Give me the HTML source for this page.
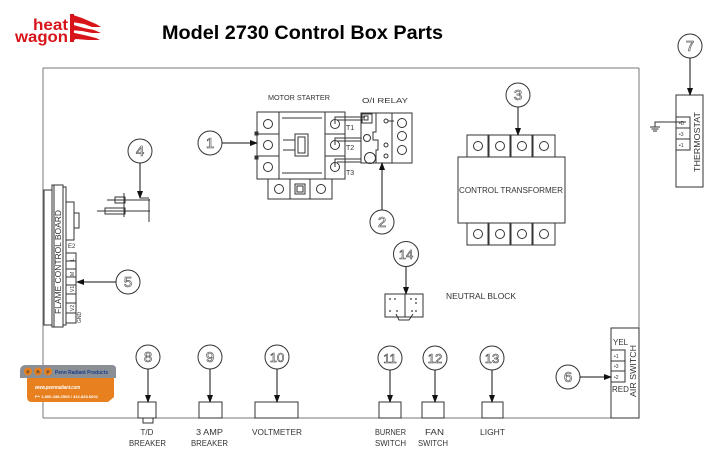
<!DOCTYPE html>
<html><head><meta charset="utf-8"><style>
html,body{margin:0;padding:0;background:#fff;}
svg{display:block;}
text{font-family:"Liberation Sans",sans-serif;}
.cad{font-family:"Liberation Sans",sans-serif;font-size:8px;fill:#333;}
.num{font-family:"Liberation Sans",sans-serif;font-size:15px;fill:#fff;stroke:#444;stroke-width:0.6;text-anchor:middle;}
</style></head><body>
<svg width="720" height="458" viewBox="0 0 720 458" xmlns="http://www.w3.org/2000/svg">
<defs>
<marker id="ar" markerWidth="8" markerHeight="6" refX="7" refY="3" orient="auto" markerUnits="userSpaceOnUse">
<path d="M0,0 L8,3 L0,6 z" fill="#111"/></marker>
</defs>

<!-- Logo -->
<text x="33" y="30" font-size="16" font-weight="bold" fill="#d7141a" textLength="35" lengthAdjust="spacingAndGlyphs">heat</text>
<text x="15" y="42" font-size="16" font-weight="bold" fill="#d7141a" textLength="53" lengthAdjust="spacingAndGlyphs">wagon</text>
<g fill="#d7141a">
<path d="M70,14 L82,18 L96,24 L101,27 L92,27 L84,24 L72,22 z"/>
<path d="M70,24 L84,28 L94,30 L101,33 L92,33 L82,31 L70,30 z"/>
<path d="M70,32 L84,35 L96,38 L100,40 L88,40 L76,39 L70,42 z"/>
<rect x="70" y="14" width="4" height="28"/>
</g>

<!-- Title -->
<text x="162" y="39" font-size="19" font-weight="bold" fill="#000" textLength="281" lengthAdjust="spacingAndGlyphs">Model 2730 Control Box Parts</text>

<!-- Main box -->
<g stroke="#777" stroke-width="1" fill="none">
<line x1="43" y1="68" x2="639" y2="68"/>
<line x1="43" y1="68" x2="43" y2="418"/>
<line x1="639" y1="68" x2="639" y2="328"/>
<line x1="43" y1="418" x2="611" y2="418"/>
</g>

<g stroke="#333" stroke-width="1" fill="none">
<!-- Motor starter -->
<rect x="257" y="112" width="88" height="67"/>
<line x1="279" y1="112" x2="279" y2="179"/>
<line x1="325" y1="112" x2="325" y2="179"/>
<line x1="257" y1="134" x2="279" y2="134"/>
<line x1="257" y1="156" x2="279" y2="156"/>
<line x1="325" y1="134" x2="345" y2="134"/>
<line x1="325" y1="156" x2="345" y2="156"/>
<line x1="282" y1="118" x2="322" y2="118"/>
<line x1="282" y1="173" x2="322" y2="173"/>
<circle cx="268" cy="124" r="4.5"/><circle cx="268" cy="145" r="4.5"/><circle cx="268" cy="167" r="4.5"/>
<circle cx="335" cy="124" r="4.5"/><circle cx="335" cy="145" r="4.5"/><circle cx="335" cy="167" r="4.5"/>
<rect x="295" y="134" width="13" height="22"/>
<rect x="298" y="137" width="7" height="16"/>
<line x1="283" y1="140" x2="295" y2="140"/>
<line x1="283" y1="150" x2="295" y2="150"/>
<rect x="255" y="132" width="3" height="3" fill="#333"/>
<rect x="255" y="156" width="3" height="3" fill="#333"/>
<rect x="268" y="179" width="64" height="20"/>
<line x1="290" y1="179" x2="290" y2="199"/>
<line x1="310" y1="179" x2="310" y2="199"/>
<circle cx="279" cy="189" r="4.5"/><circle cx="321" cy="189" r="4.5"/>
<rect x="295" y="184" width="10" height="10"/><rect x="297" y="186" width="6" height="6"/>
<!-- wires -->
<polyline points="335,124 335,117 365,117"/><line x1="337" y1="120" x2="363" y2="120"/>
<polyline points="335,145 335,138 361,138"/><line x1="337" y1="141" x2="361" y2="141"/>
<polyline points="335,167 335,159 361,159"/><line x1="337" y1="162" x2="361" y2="162"/>
<!-- O/I relay -->
<rect x="361" y="113" width="51" height="50"/>
<line x1="392" y1="113" x2="392" y2="163"/>
<circle cx="402" cy="123" r="4.5"/><circle cx="402" cy="136" r="4.5"/><circle cx="402" cy="150" r="4.5"/>
<rect x="362" y="114" width="10" height="9"/><rect x="364" y="116" width="4" height="4"/>
<circle cx="367" cy="138" r="3.5"/>
<circle cx="370" cy="158" r="5.5"/>
<polyline points="376,113 376,132 373,132 373,140 378,140 378,150 376,150 376,163"/>
<circle cx="386" cy="121" r="2"/><line x1="388" y1="121" x2="394" y2="121"/>
<circle cx="386" cy="145" r="2"/><circle cx="386" cy="156" r="2"/>

<!-- Control transformer -->
<rect x="467" y="135" width="88" height="22"/>
<line x1="489" y1="135" x2="489" y2="157"/><line x1="511" y1="135" x2="511" y2="157"/><line x1="533" y1="135" x2="533" y2="157"/>
<line x1="488" y1="135" x2="488" y2="157"/><line x1="510" y1="135" x2="510" y2="157"/><line x1="532" y1="135" x2="532" y2="157"/>
<circle cx="478" cy="146" r="4.5"/><circle cx="500" cy="146" r="4.5"/><circle cx="522" cy="146" r="4.5"/><circle cx="544" cy="146" r="4.5"/>
<rect x="458" y="157" width="107" height="66"/>
<rect x="467" y="223" width="88" height="22"/>
<line x1="489" y1="223" x2="489" y2="245"/><line x1="511" y1="223" x2="511" y2="245"/><line x1="533" y1="223" x2="533" y2="245"/>
<line x1="488" y1="223" x2="488" y2="245"/><line x1="510" y1="223" x2="510" y2="245"/><line x1="532" y1="223" x2="532" y2="245"/>
<circle cx="478" cy="234" r="4.5"/><circle cx="500" cy="234" r="4.5"/><circle cx="522" cy="234" r="4.5"/><circle cx="544" cy="234" r="4.5"/>

<!-- Thermostat -->
<rect x="676" y="95" width="27" height="92"/>
<rect x="676" y="117" width="14" height="11"/>
<rect x="676" y="128" width="14" height="11"/>
<rect x="676" y="139" width="14" height="11"/>
<polyline points="686,122 655,122 655,127"/>
<line x1="650" y1="127" x2="660" y2="127"/><line x1="651.5" y1="129" x2="658.5" y2="129"/><line x1="653" y1="131" x2="657" y2="131"/>

<!-- Air switch -->
<rect x="611" y="328" width="28" height="90"/>
<rect x="611" y="350" width="14" height="11"/>
<rect x="611" y="361" width="14" height="10"/>
<rect x="611" y="371" width="14" height="11"/>

<!-- Flame control board -->
<rect x="44" y="190" width="8" height="135"/>
<rect x="52" y="185" width="11" height="142"/>
<line x1="54" y1="185" x2="54" y2="327"/>
<rect x="63" y="187" width="3" height="138"/>
<rect x="66" y="202" width="8" height="38"/>
<rect x="74" y="213" width="5" height="15"/>
<rect x="66" y="253" width="10" height="8"/>
<rect x="66" y="261" width="10" height="8"/>
<rect x="66" y="269" width="10" height="8"/>
<rect x="66" y="277" width="10" height="8"/>
<rect x="66" y="285" width="10" height="9"/>
<rect x="66" y="294" width="10" height="9"/>
<rect x="66" y="303" width="10" height="10"/>
<rect x="66" y="313" width="10" height="10"/>

<!-- Electrodes (4) -->
<line x1="107" y1="200" x2="150" y2="200"/>
<rect x="115" y="197" width="10" height="6"/>
<line x1="124" y1="193" x2="124" y2="217"/>
<line x1="97" y1="211" x2="150" y2="211"/>
<rect x="105" y="208" width="20" height="6"/>
<line x1="149" y1="199" x2="149" y2="222"/>

<!-- Neutral block -->
<rect x="385" y="294" width="38" height="23"/>
<line x1="405" y1="294" x2="405" y2="317"/>
<path d="M396,314 L399,320 L409,320 L413,314"/>

<!-- Bottom boxes -->
<rect x="138" y="402" width="18" height="16"/>
<rect x="143" y="418" width="10" height="5"/>
<rect x="199" y="402" width="23" height="16"/>
<rect x="255" y="402" width="43" height="16"/>
<rect x="379" y="402" width="22" height="16"/>
<rect x="422" y="402" width="22" height="16"/>
<rect x="482" y="402" width="21" height="16"/>

<!-- Callout circles -->
<circle cx="210" cy="143" r="12"/>
<circle cx="382" cy="222" r="12"/>
<circle cx="518" cy="95" r="12"/>
<circle cx="140" cy="151" r="12"/>
<circle cx="128" cy="282" r="12"/>
<circle cx="568" cy="377" r="12"/>
<circle cx="690" cy="46" r="12"/>
<circle cx="148" cy="357" r="12"/>
<circle cx="210" cy="357" r="12"/>
<circle cx="277" cy="357" r="12"/>
<circle cx="390" cy="358" r="12"/>
<circle cx="435" cy="358" r="12"/>
<circle cx="492" cy="358" r="12"/>
<circle cx="406" cy="254" r="12.5"/>
</g>

<!-- neutral block dots -->
<g fill="#333">
<circle cx="390" cy="299" r="0.9"/><circle cx="395" cy="299" r="0.9"/>
<circle cx="411" cy="299" r="0.9"/><circle cx="416" cy="299" r="0.9"/><circle cx="416" cy="303" r="0.9"/>
<circle cx="390" cy="311" r="0.9"/><circle cx="397" cy="311" r="0.9"/>
<circle cx="412" cy="311" r="0.9"/><circle cx="416" cy="311" r="0.9"/>
</g>

<!-- leader lines with arrows -->
<g stroke="#111" stroke-width="1" fill="none" marker-end="url(#ar)">
<line x1="222" y1="143" x2="257" y2="143"/>
<line x1="382" y1="210" x2="382" y2="163"/>
<line x1="518" y1="107" x2="518" y2="135"/>
<polyline points="140,163 140,198"/>
<line x1="116" y1="282" x2="77" y2="282"/>
<line x1="580" y1="377" x2="611" y2="377"/>
<line x1="690" y1="58" x2="690" y2="95"/>
<line x1="148" y1="369" x2="148" y2="402"/>
<line x1="210" y1="369" x2="210" y2="402"/>
<line x1="277" y1="369" x2="277" y2="402"/>
<line x1="390" y1="370" x2="390" y2="402"/>
<line x1="435" y1="370" x2="435" y2="402"/>
<line x1="492" y1="370" x2="492" y2="402"/>
<line x1="406" y1="267" x2="406" y2="294"/>
</g>
<line x1="140" y1="198" x2="149" y2="198" stroke="#333"/>

<!-- Callout numbers -->
<g class="num">
<text x="210" y="148">1</text>
<text x="382" y="227">2</text>
<text x="518" y="100">3</text>
<text x="140" y="156">4</text>
<text x="128" y="287">5</text>
<text x="568" y="382">6</text>
<text x="690" y="51">7</text>
<text x="148" y="362">8</text>
<text x="210" y="362">9</text>
<text x="277" y="362" font-size="13">10</text>
<text x="390" y="363" font-size="13">11</text>
<text x="435" y="363" font-size="13">12</text>
<text x="492" y="363" font-size="13">13</text>
<text x="406" y="259" font-size="13">14</text>
</g>

<!-- Labels -->
<g class="cad">
<text x="268" y="100" font-size="7.5" textLength="62" lengthAdjust="spacingAndGlyphs">MOTOR STARTER</text>
<text x="362" y="103" font-size="7" textLength="46" lengthAdjust="spacingAndGlyphs">O/I RELAY</text>
<text x="346" y="130" font-size="7">T1</text>
<text x="346" y="150" font-size="7">T2</text>
<text x="346" y="175" font-size="7">T3</text>
<text x="459" y="193" textLength="104" lengthAdjust="spacingAndGlyphs">CONTROL TRANSFORMER</text>
<text x="446" y="299" textLength="70" lengthAdjust="spacingAndGlyphs">NEUTRAL BLOCK</text>
<text x="252" y="435" textLength="50" lengthAdjust="spacingAndGlyphs">VOLTMETER</text>
<text x="147" y="435" text-anchor="middle">T/D</text>
<text x="129" y="446" textLength="37" lengthAdjust="spacingAndGlyphs">BREAKER</text>
<text x="196" y="435" textLength="27" lengthAdjust="spacingAndGlyphs">3 AMP</text>
<text x="191" y="446" textLength="37" lengthAdjust="spacingAndGlyphs">BREAKER</text>
<text x="375" y="435" textLength="31" lengthAdjust="spacingAndGlyphs">BURNER</text>
<text x="375" y="446" textLength="31" lengthAdjust="spacingAndGlyphs">SWITCH</text>
<text x="425" y="435" textLength="19" lengthAdjust="spacingAndGlyphs">FAN</text>
<text x="418" y="446" textLength="30" lengthAdjust="spacingAndGlyphs">SWITCH</text>
<text x="480" y="435" textLength="25" lengthAdjust="spacingAndGlyphs">LIGHT</text>
<text x="613" y="345" font-size="8">YEL</text>
<text x="612" y="392" font-size="8">RED</text>
<text x="614" y="358" font-size="5">•1</text>
<text x="614" y="368" font-size="5">•3</text>
<text x="614" y="379" font-size="5">•2</text>
<text x="679" y="125" font-size="5">•D</text>
<text x="679" y="136" font-size="5">•3</text>
<text x="679" y="147" font-size="5">•1</text>
<text x="68" y="248" font-size="6">E2</text>
<text transform="translate(636,397) rotate(-90)" textLength="52" lengthAdjust="spacingAndGlyphs">AIR SWITCH</text>
<text transform="translate(700,172) rotate(-90)" textLength="60" lengthAdjust="spacingAndGlyphs">THERMOSTAT</text>
<text transform="translate(61,314) rotate(-90)" textLength="104" lengthAdjust="spacingAndGlyphs">FLAME CONTROL BOARD</text>
<text transform="translate(74,261) rotate(-90)" font-size="5">L</text>
<text transform="translate(74,276) rotate(-90)" font-size="5">M</text>
<text transform="translate(74,292) rotate(-90)" font-size="5">V1</text>
<text transform="translate(74,311) rotate(-90)" font-size="5">V2</text>
<text transform="translate(81,323) rotate(-90)" font-size="5">GND</text>
</g>

<!-- PRP badge -->
<path d="M27,378 L114,378 L114,397 L108,402 L32,402 Q27,402 27,397 z" fill="#e8801f"/>
<path d="M26,365 L112,365 Q116,365 116,369 L116,378 L20,378 L20,371 Q20,365 26,365 z" fill="#8a8f96"/>
<circle cx="28" cy="371.5" r="4" fill="#e8801f"/>
<circle cx="38" cy="371.5" r="4" fill="#e8801f"/>
<circle cx="48" cy="371.5" r="4" fill="#e8801f"/>
<text x="28" y="373.5" font-size="4.5" font-weight="bold" fill="#333" text-anchor="middle">P</text>
<text x="38" y="373.5" font-size="4.5" font-weight="bold" fill="#333" text-anchor="middle">R</text>
<text x="48" y="373.5" font-size="4.5" font-weight="bold" fill="#333" text-anchor="middle">P</text>
<text x="55" y="374" font-size="5.5" font-weight="bold" fill="#1a3d8a" textLength="53" lengthAdjust="spacingAndGlyphs">Penn Radiant Products</text>
<text x="35" y="389" font-size="5.5" font-weight="bold" font-style="italic" fill="#fff" textLength="45" lengthAdjust="spacingAndGlyphs">www.pennradiant.com</text>
<text x="35" y="398" font-size="4" font-weight="bold" fill="#fff" textLength="63" lengthAdjust="spacingAndGlyphs">P+ 1.800.438.2503  / 412.828.6601</text>
</svg>
</body></html>
